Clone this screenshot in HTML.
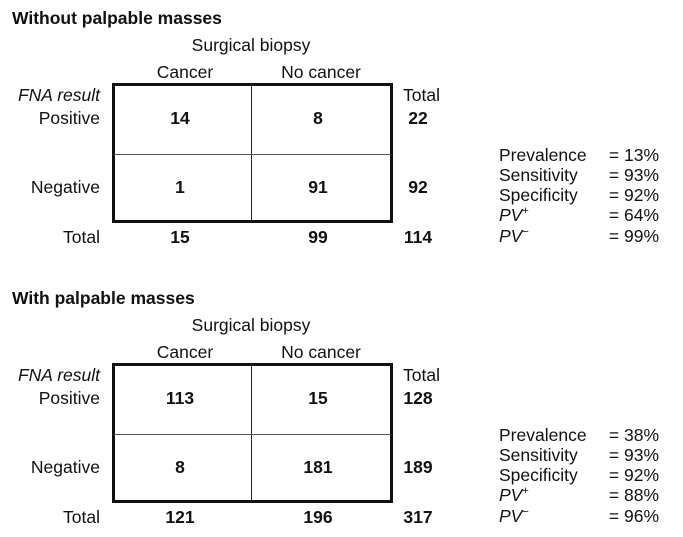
<!DOCTYPE html>
<html><head><meta charset="utf-8">
<style>
body{margin:0;background:#fff;width:683px;height:537px;position:relative;overflow:hidden;font-family:"Liberation Sans",Arial,sans-serif;color:#111}
.t{position:absolute;font-size:17.5px;line-height:20px;white-space:nowrap}
.c{transform:translateX(-50%)}
.r{transform:translateX(-100%)}
.b{font-weight:bold}
.box{position:absolute;border:3px solid #111;box-sizing:border-box}
.vl{position:absolute;background:#222;width:1px}
.hl{position:absolute;background:#555;height:1px}
.sp{font-size:11px;line-height:0;position:relative;top:-7px}
</style></head><body>
<script>
const titles=["Without palpable masses","With palpable masses"];
const cells=[[[14,8],[1,91]],[[113,15],[8,181]]];
const rowTotals=[[22,92],[128,189]];
const colTotals=[[15,99,114],[121,196,317]];
const statLabels=["Prevalence","Sensitivity","Specificity","PV","PV"];
const statVals=[["= 13%","= 93%","= 92%","= 64%","= 99%"],["= 38%","= 93%","= 92%","= 88%","= 96%"]];
function txt(parent,s,x,y,cls,name){
  const d=document.createElement('div');
  d.className='t '+(cls||'');
  d.style.left=x+'px';d.style.top=(y-10)+'px';
  d.innerHTML=s;
  
  
  parent.appendChild(d);return d;
}
for(let k=0;k<2;k++){
  const o=k*280;
  const g=document.createElement('div');
  
  
  document.body.appendChild(g);
  txt(g,titles[k],12,o+18,'b','block-title');
  txt(g,'Surgical biopsy',251,o+45,'c','column-group-header');
  txt(g,'Cancer',185,o+72,'c','column-header-cancer');
  txt(g,'No cancer',321,o+72,'c','column-header-no-cancer');
  txt(g,'<i>FNA result</i>',100,o+95,'r','row-group-header');
  txt(g,'Positive',100,o+118,'r','row-header-positive');
  txt(g,'Negative',100,o+187,'r','row-header-negative');
  txt(g,'Total',100,o+237,'r','row-header-total');
  txt(g,'Total',403,o+95,'','column-header-total');
  const box=document.createElement('div');box.className='box';
  box.style.cssText=`left:112px;top:${o+83}px;width:281px;height:140px`;
  
  
  g.appendChild(box);
  const v=document.createElement('div');v.className='vl';
  v.style.cssText=`left:251px;top:${o+85}px;height:136px`;
  
  
  g.appendChild(v);
  const h=document.createElement('div');h.className='hl';
  h.style.cssText=`left:114px;top:${o+154}px;width:277px`;
  
  
  g.appendChild(h);
  const cx=[180,318],ry=[118,187];
  for(let i=0;i<2;i++){for(let j=0;j<2;j++)txt(g,cells[k][i][j],cx[j],o+ry[i],'c b','cell-value');
    txt(g,rowTotals[k][i],418,o+ry[i],'c b','row-total');}
  [180,318,418].forEach((x,j)=>txt(g,colTotals[k][j],x,o+237,'c b','column-total'));
  const sy=[155,175,195,215,236];
  for(let i=0;i<5;i++){
    let lab=statLabels[i];
    if(i==3)lab='<i>PV</i><span class="sp">+</span>';
    if(i==4)lab='<i>PV</i><span class="sp">−</span>';
    txt(g,lab,499,o+sy[i],'','stat-label');
    txt(g,statVals[k][i],659,o+sy[i],'r','stat-value');
  }
}
</script>
</body></html>
